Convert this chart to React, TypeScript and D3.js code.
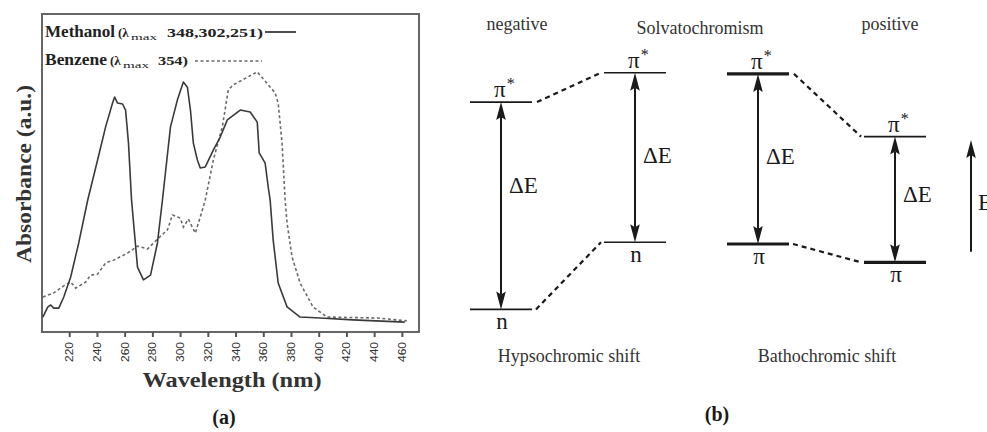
import * as d3 from "d3";

// (a) UV-vis spectra
const methanolNm = [200.6, 204.2, 206.3, 208.5, 212.1, 215.7, 220.7, 226.5, 233.0, 240.1, 245.9, 250.9, 252.4, 254.5, 258.1, 260.3, 262.4, 264.6, 268.9, 273.2, 278.3, 283.3, 286.9, 292.7, 297.7, 302.0, 304.9, 307.1, 309.2, 312.1, 314.2, 317.8, 323.6, 328.6, 333.7, 343.0, 350.2, 355.3, 356.7, 361.0, 363.2, 364.6, 366.8, 370.4, 376.8, 386.2, 400.6, 424.3, 461.7];
const methanolAbs = [0.047, 0.079, 0.085, 0.075, 0.075, 0.110, 0.173, 0.280, 0.415, 0.541, 0.645, 0.720, 0.739, 0.720, 0.717, 0.698, 0.594, 0.415, 0.204, 0.164, 0.179, 0.280, 0.415, 0.645, 0.730, 0.786, 0.770, 0.698, 0.594, 0.541, 0.516, 0.519, 0.572, 0.613, 0.667, 0.698, 0.692, 0.660, 0.563, 0.531, 0.456, 0.415, 0.289, 0.154, 0.079, 0.047, 0.044, 0.038, 0.031];

const benzeneNm = [200.6, 208.5, 215.7, 220.7, 224.3, 231.5, 235.1, 240.1, 245.9, 251.7, 261.7, 268.9, 276.1, 283.3, 290.5, 294.1, 299.8, 302.0, 305.6, 310.6, 314.2, 317.8, 323.6, 330.1, 334.4, 338.0, 355.3, 368.2, 370.4, 373.2, 375.4, 376.8, 380.4, 386.2, 395.5, 405.6, 441.6, 463.2];
const benzeneAbs = [0.110, 0.123, 0.145, 0.157, 0.138, 0.157, 0.179, 0.182, 0.217, 0.226, 0.248, 0.270, 0.261, 0.292, 0.321, 0.368, 0.358, 0.330, 0.355, 0.311, 0.362, 0.415, 0.541, 0.645, 0.761, 0.777, 0.818, 0.752, 0.720, 0.594, 0.415, 0.343, 0.236, 0.154, 0.079, 0.047, 0.044, 0.035];

const wavelengthTicks = [220, 240, 260, 280, 300, 320, 340, 360, 380, 400, 420, 440, 460];

// (b) energy level diagram, arbitrary energy units
const columns = ["negNonpolar", "negPolar", "posNonpolar", "posPolar"];
const excitedEnergy = [79.3, 89.1, 88.7, 67.8];
const groundEnergy = [10.2, 32.6, 32.0, 25.9];
const groundLabels = ["n", "n", "π", "π"];
const energyAxis = [29.4, 66.7];
const thickExcited = ["posNonpolar"];
const thickGround = ["posNonpolar", "posPolar"];

const serif = "'Liberation Serif', 'Times New Roman', serif";
const ink = "#1a1a1a";

type Pt = { nm: number; a: number };

function Arrow({ x, y1, y2, both }: { x: number; y1: number; y2: number; both: boolean }) {
  // y1 bottom, y2 top
  const hl = 18, hw = 4.8;
  const up = `M${x},${y2} L${x - hw},${y2 + hl} L${x},${y2 + hl - 3} L${x + hw},${y2 + hl} Z`;
  const down = `M${x},${y1} L${x - hw},${y1 - hl} L${x},${y1 - hl + 3} L${x + hw},${y1 - hl} Z`;
  return (
    <g>
      <line x1={x} x2={x} y1={both ? y1 - hl + 3 : y1} y2={y2 + hl - 3} stroke={ink} strokeWidth={2} />
      <path d={up} fill={ink} />
      {both && <path d={down} fill={ink} />}
    </g>
  );
}

export default function App() {
  const width = 987, height = 432;

  const x = d3.scaleLinear().domain([200, 472]).range([42, 419]);
  const y = d3.scaleLinear().domain([0, 1]).range([332, 14]);

  const line = d3.line<Pt>().x((d) => x(d.nm)).y((d) => y(d.a));
  const methanol = methanolNm.map((nm, i) => ({ nm, a: methanolAbs[i] }));
  const benzene = benzeneNm.map((nm, i) => ({ nm, a: benzeneAbs[i] }));

  const colX = d3.scaleOrdinal<string, number>().domain(columns).range([501, 635, 758, 895]);
  const energy = d3.scaleLinear().domain([0, 100]).range([340, 40]);
  const half = 31;
  const deltaFrac = [0.44, 0.53, 0.53, 0.52];

  const connectors = [[0, 1], [2, 3]];

  return (
    <svg width={width} height={height} style={{ position: "absolute", left: 0, top: 0, background: "#fff" }} fontFamily={serif}>
      {/* ---------- (a) ---------- */}
      <rect x={x(200)} y={y(1)} width={x(472) - x(200)} height={y(0) - y(1)} fill="none" stroke="#666" strokeWidth={2} />

      <path d={line(benzene) ?? ""} fill="none" stroke="#6a6a6a" strokeWidth={1.6} strokeDasharray="3,2.5" />
      <path d={line(methanol) ?? ""} fill="none" stroke="#3a3a3a" strokeWidth={1.6} strokeLinejoin="round" />

      {wavelengthTicks.map((t) => (
        <g key={t} transform={`translate(${x(t)},0)`}>
          <line y1={y(0)} y2={y(0) + 5} stroke="#555" strokeWidth={2} />
          <text
            transform={`translate(0,342) rotate(-90)`}
            textAnchor="end"
            dominantBaseline="central"
            fontFamily="'Liberation Sans', Arial, sans-serif"
            fontSize={10}
            textLength={20}
            lengthAdjust="spacingAndGlyphs"
            fill="#333"
          >
            {t}
          </text>
        </g>
      ))}

      <text x={232} y={387} textAnchor="middle" fontSize={22} fontWeight="bold" fill="#333" textLength={179} lengthAdjust="spacingAndGlyphs">
        Wavelength (nm)
      </text>
      <text transform="translate(31,174) rotate(-90)" textAnchor="middle" fontSize={22} fontWeight="bold" fill="#333" textLength={178} lengthAdjust="spacingAndGlyphs">
        Absorbance (a.u.)
      </text>
      <text x={224} y={424} textAnchor="middle" fontSize={20} fontWeight="bold" fill={ink}>(a)</text>

      {/* legend */}
      <g fontWeight="bold" fill="#222">
        <text x={45} y={37} fontSize={17} textLength={70} lengthAdjust="spacingAndGlyphs">Methanol</text>
        <text x={118} y={37} fontSize={13}>(λ</text>
        <text x={131} y={40} fontSize={9} textLength={26} lengthAdjust="spacingAndGlyphs" fontWeight="normal">max</text>
        <text x={167} y={37} fontSize={13} textLength={96} lengthAdjust="spacingAndGlyphs">348,302,251)</text>
        <text x={45} y={65} fontSize={17} textLength={62} lengthAdjust="spacingAndGlyphs">Benzene</text>
        <text x={110} y={65} fontSize={13}>(λ</text>
        <text x={123} y={68} fontSize={9} textLength={26} lengthAdjust="spacingAndGlyphs" fontWeight="normal">max</text>
        <text x={158} y={65} fontSize={13} textLength={30} lengthAdjust="spacingAndGlyphs">354)</text>
      </g>
      <line x1={265} x2={296} y1={32} y2={32} stroke="#3a3a3a" strokeWidth={1.8} />
      <line x1={195} x2={262} y1={61} y2={61} stroke="#6a6a6a" strokeWidth={1.6} strokeDasharray="3,2.5" />

      {/* ---------- (b) ---------- */}
      <g fill="#333" fontSize={18}>
        <text x={517} y={30} textAnchor="middle">negative</text>
        <text x={700} y={34} textAnchor="middle">Solvatochromism</text>
        <text x={890} y={30} textAnchor="middle">positive</text>
        <text x={569} y={362} textAnchor="middle">Hypsochromic shift</text>
        <text x={827} y={362} textAnchor="middle">Bathochromic shift</text>
      </g>

      {connectors.map(([a, b]) => {
        const ca = columns[a], cb = columns[b];
        return (
          <g key={ca} stroke={ink} strokeWidth={2.2} strokeDasharray="5,4">
            <line x1={colX(ca) + half + 5} y1={energy(excitedEnergy[a])} x2={colX(cb) - half - 3} y2={energy(excitedEnergy[b])} />
            <line x1={colX(ca) + half + 4} y1={energy(groundEnergy[a])} x2={colX(cb) - half - 3} y2={energy(groundEnergy[b])} />
          </g>
        );
      })}

      {columns.map((c, i) => {
        const cx = colX(c);
        const ye = energy(excitedEnergy[i]);
        const yg = energy(groundEnergy[i]);
        const ly = ye + (yg - ye) * deltaFrac[i];
        return (
          <g key={c}>
            <line x1={cx - half} x2={cx + half} y1={ye} y2={ye} stroke={ink} strokeWidth={thickExcited.includes(c) ? 3.2 : 1.6} />
            <line x1={cx - half} x2={cx + half} y1={yg} y2={yg} stroke={ink} strokeWidth={thickGround.includes(c) ? 3.2 : 1.6} />
            <Arrow x={cx} y1={yg} y2={ye} both={true} />
            <text x={cx - 7} y={ye - 5} fontSize={23} fill={ink}>
              π<tspan fontSize={16} dy={-8} dx={1} fill={ink}>*</tspan>
            </text>
            <text x={cx + 1} y={yg + 20} fontSize={23} textAnchor="middle" fill={ink}>
              {groundLabels[i]}
            </text>
            <text x={cx + 8} y={ly} fontSize={23} fill={ink}>ΔE</text>
          </g>
        );
      })}

      <Arrow x={971} y1={energy(energyAxis[0])} y2={energy(energyAxis[1])} both={false} />
      <text x={978} y={210} fontSize={23} fill={ink}>E</text>

      <text x={717} y={421} textAnchor="middle" fontSize={20} fontWeight="bold" fill={ink}>(b)</text>
    </svg>
  );
}
